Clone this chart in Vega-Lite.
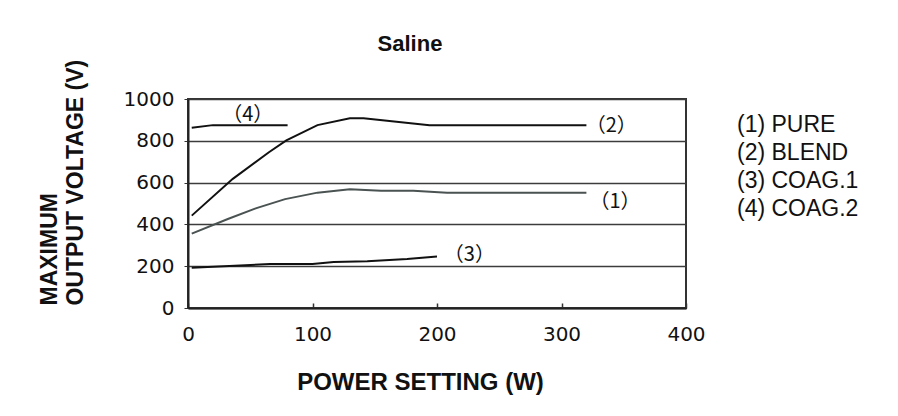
{
  "$schema": "https://vega.github.io/schema/vega-lite/v6.json",
  "autosize": {"type": "none"},
  "width": 498,
  "height": 209,
  "padding": {"left": 188, "top": 99, "right": 212, "bottom": 108},
  "background": "white",
  "title": {
    "text": "Saline",
    "font": "Liberation Sans",
    "fontSize": 22,
    "fontWeight": "bold",
    "color": "#111",
    "anchor": "middle",
    "dx": -27,
    "dy": 31,
    "baseline": "alphabetic",
    "offset": 17
  },
  "datasets": {
    "curves": [
      {"series": "(1) PURE", "w": 3, "v": 356},
      {"series": "(1) PURE", "w": 32, "v": 426},
      {"series": "(1) PURE", "w": 55, "v": 478},
      {"series": "(1) PURE", "w": 78, "v": 521},
      {"series": "(1) PURE", "w": 104, "v": 552},
      {"series": "(1) PURE", "w": 130, "v": 568},
      {"series": "(1) PURE", "w": 155, "v": 561},
      {"series": "(1) PURE", "w": 181, "v": 561},
      {"series": "(1) PURE", "w": 208, "v": 552},
      {"series": "(1) PURE", "w": 320, "v": 552},
      {"series": "(2) BLEND", "w": 3, "v": 442},
      {"series": "(2) BLEND", "w": 36, "v": 618},
      {"series": "(2) BLEND", "w": 65, "v": 745},
      {"series": "(2) BLEND", "w": 79, "v": 802},
      {"series": "(2) BLEND", "w": 104, "v": 875},
      {"series": "(2) BLEND", "w": 130, "v": 908},
      {"series": "(2) BLEND", "w": 141, "v": 908},
      {"series": "(2) BLEND", "w": 194, "v": 875},
      {"series": "(2) BLEND", "w": 320, "v": 875},
      {"series": "(3) COAG.1", "w": 3, "v": 193},
      {"series": "(3) COAG.1", "w": 66, "v": 210},
      {"series": "(3) COAG.1", "w": 100, "v": 210},
      {"series": "(3) COAG.1", "w": 117, "v": 220},
      {"series": "(3) COAG.1", "w": 144, "v": 224},
      {"series": "(3) COAG.1", "w": 176, "v": 234},
      {"series": "(3) COAG.1", "w": 200, "v": 246},
      {"series": "(4) COAG.2", "w": 3, "v": 862},
      {"series": "(4) COAG.2", "w": 20, "v": 875},
      {"series": "(4) COAG.2", "w": 80, "v": 875}
    ],
    "tags": [
      {"tag": "（1）", "w": 343, "v": 505},
      {"tag": "（2）", "w": 340, "v": 873},
      {"tag": "（3）", "w": 226, "v": 252},
      {"tag": "（4）", "w": 48, "v": 923}
    ]
  },
  "layer": [
    {
      "data": {"name": "curves"},
      "mark": {"type": "line", "strokeWidth": 2, "interpolate": "linear"},
      "encoding": {
        "x": {
          "field": "w",
          "type": "quantitative",
          "scale": {"domain": [0, 400], "nice": false},
          "axis": {
            "values": [0, 100, 200, 300, 400],
            "format": "d",
            "grid": false,
            "domainColor": "#222",
            "domainWidth": 2,
            "tickColor": "#333",
            "tickWidth": 1.5,
            "tickSize": -5,
            "labelFont": "DejaVu Sans",
            "labelFontSize": 20,
            "labelColor": "#111",
            "labelPadding": 21,
            "labelFlush": false,
            "title": "POWER SETTING (W)",
            "titleFont": "Liberation Sans",
            "titleFontSize": 24,
            "titleFontWeight": "bold",
            "titleColor": "#111",
            "titleX": 232,
            "titleY": 81,
            "titleBaseline": "alphabetic"
          }
        },
        "y": {
          "field": "v",
          "type": "quantitative",
          "scale": {"domain": [0, 1000], "nice": false},
          "axis": {
            "values": [0, 200, 400, 600, 800, 1000],
            "format": "d",
            "grid": true,
            "gridColor": "#3c3c3c",
            "gridWidth": 1.7,
            "domainColor": "#222",
            "domainWidth": 2,
            "tickColor": "#333",
            "tickSize": 4,
            "labelFont": "DejaVu Sans",
            "labelFontSize": 20,
            "labelColor": "#111",
            "labelPadding": 10,
            "labelFlush": false,
            "title": ["MAXIMUM", "OUTPUT VOLTAGE (V)"],
            "titleFont": "Liberation Sans",
            "titleFontSize": 23,
            "titleFontWeight": "bold",
            "titleColor": "#111",
            "titleAngle": 270,
            "titleAlign": "left",
            "titleBaseline": "middle",
            "titleLineHeight": 26,
            "titleX": -139,
            "titleY": 206
          }
        },
        "color": {
          "field": "series",
          "type": "nominal",
          "scale": {
            "domain": ["(1) PURE", "(2) BLEND", "(3) COAG.1", "(4) COAG.2"],
            "range": ["#4a5252", "#111111", "#111111", "#111111"]
          },
          "legend": {
            "title": null,
            "orient": "none",
            "legendX": 526,
            "legendY": 14,
            "symbolOpacity": 0,
            "symbolSize": 0,
            "symbolStrokeWidth": 0,
            "labelOffset": 0,
            "labelFont": "Liberation Sans",
            "labelFontSize": 23,
            "labelColor": "#111",
            "rowPadding": 4,
            "labelLimit": 300
          }
        }
      }
    },
    {
      "data": {"name": "tags"},
      "mark": {"type": "text", "font": "Noto Sans CJK JP", "fontSize": 20, "color": "#111", "align": "center", "baseline": "middle"},
      "encoding": {
        "x": {"field": "w", "type": "quantitative"},
        "y": {"field": "v", "type": "quantitative"},
        "text": {"field": "tag"}
      }
    }
  ],
  "config": {
    "view": {"stroke": "#333", "strokeWidth": 2}
  }
}
